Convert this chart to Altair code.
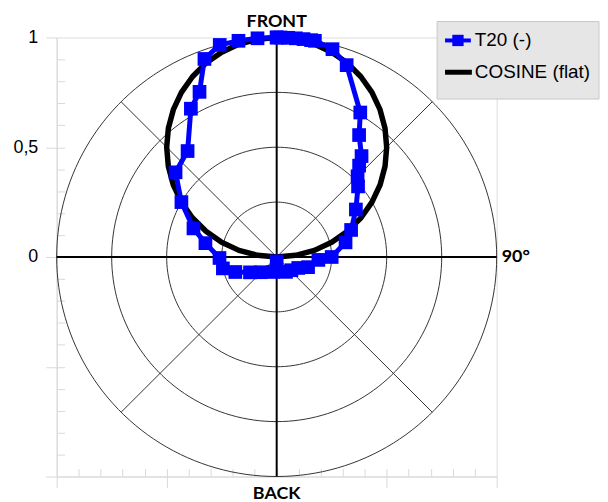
import altair as alt
import numpy as np
import pandas as pd

# ---- data -------------------------------------------------------------------
T20_ANGLE = [0, 1, 3, 5, 7, 9, 10, 15, 20, 30, 34, 40, 42, 45, 49, 59, 70, 78, 90,
             94, 108, 117, 132, 148, 180, -167, -134, -120, -110, -102, -91, -79,
             -71, -60, -50, -40, -30, -25, -20, -15, -10, -5, 0]
T20_R = [1.0, 1.0, 1.0, 1.0, 1.0, 1.0, 1.0, 0.98, 0.93, 0.76, 0.67, 0.60, 0.56, 0.52,
         0.49, 0.42, 0.36, 0.32, 0.25, 0.19, 0.15, 0.11, 0.09, 0.08, 0.02, 0.07, 0.10,
         0.14, 0.20, 0.25, 0.26, 0.33, 0.40, 0.50, 0.60, 0.63, 0.78, 0.83, 0.96, 1.0,
         1.0, 1.0, 1.0]

COS_ANGLE = [-90, -85, -80, -75, -70, -65, -60, -55, -50, -45, -40, -35, -30, -25, -20,
             -15, -10, -5, 0, 5, 10, 15, 20, 25, 30, 35, 40, 45, 50, 55, 60, 65, 70, 75,
             80, 85, 90]
COS_R = [0.0, 0.087, 0.174, 0.259, 0.342, 0.423, 0.5, 0.574, 0.643, 0.707, 0.766, 0.819,
         0.866, 0.906, 0.94, 0.966, 0.985, 0.996, 1.0, 0.996, 0.985, 0.966, 0.94, 0.906,
         0.866, 0.819, 0.766, 0.707, 0.643, 0.574, 0.5, 0.423, 0.342, 0.259, 0.174,
         0.087, 0.0]

SERIES = ["T20 (-)", "COSINE (flat)"]
COLORS = ["#0000ff", "#000000"]

GRID_R = [0.25, 0.5, 0.75, 1.0]
SPOKE_ANGLES = [45, 135, 225, 315]
Y_TICKS = [-1, -0.5, 0, 0.5, 1]
X_TICKS = [-1, -0.5, 0.5, 1]
MINOR_TICKS = [-0.9, -0.8, -0.7, -0.6, -0.5, -0.4, -0.3, -0.2, -0.1, 0.0,
               0.1, 0.2, 0.3, 0.4, 0.5, 0.6, 0.7, 0.8, 0.9]


def polar(angles, radii):
    a = np.radians(np.asarray(angles, dtype=float))
    r = np.asarray(radii, dtype=float)
    return r * np.sin(a), r * np.cos(a)


tx, ty = polar(T20_ANGLE, T20_R)
t20_df = pd.DataFrame({"x": tx, "y": ty, "series": SERIES[0], "i": range(len(tx))})
cx, cy = polar(COS_ANGLE, COS_R)
cos_df = pd.DataFrame({"x": cx, "y": cy, "series": SERIES[1], "i": range(len(cx))})

phi = np.arange(0, 361, 2)
grid_rows = []
for r in GRID_R:
    gx, gy = polar(phi, [r] * len(phi))
    for k in range(len(phi)):
        grid_rows.append({"x": gx[k], "y": gy[k], "ring": r, "i": k})
grid_df = pd.DataFrame(grid_rows)

sx, sy = polar(SPOKE_ANGLES, [1.0] * len(SPOKE_ANGLES))
spoke_df = pd.DataFrame({"x": 0.0, "y": 0.0, "x2": sx, "y2": sy})
axes_df = pd.DataFrame({"x": [0.0, -1.0], "y": [-1.0, 0.0], "x2": [0.0, 1.0], "y2": [1.0, 0.0]})

W, H = 443, 442
GRAY = "#d9d9d9"
xs = alt.Scale(domain=[-1, 1], nice=False, zero=False)
ys = alt.Scale(domain=[-1, 1], nice=False, zero=False)

major_x = alt.Axis(orient="bottom", values=X_TICKS, labels=False, tickSize=11,
                   tickColor=GRAY, domainColor=GRAY, grid=False, title=None)
major_y = alt.Axis(orient="left", values=Y_TICKS, format=".1~f",
                   labelExpr="datum.value < 0 ? '' : replace(datum.label, '.', ',')",
                   labelFont="Liberation Sans", labelFontSize=18, labelColor="black",
                   labelPadding=8, labelFlush=False, labelOverlap=False, tickSize=11,
                   tickColor=GRAY, domainColor=GRAY, grid=False, title=None)
minor_x = alt.Axis(orient="top", offset=-H, values=MINOR_TICKS, labels=False,
                   domain=False, tickSize=8, tickColor=GRAY, grid=False, title=None)
minor_y = alt.Axis(orient="right", offset=-W, values=MINOR_TICKS, labels=False,
                   domain=False, tickSize=8, tickColor=GRAY, grid=False, title=None)

color_scale = alt.Scale(domain=SERIES, range=COLORS)


def X(axis=None):
    return alt.X("x:Q", scale=xs, axis=axis)


def Y(axis=None):
    return alt.Y("y:Q", scale=ys, axis=axis)


grid_layer = alt.Chart(grid_df).mark_line(color="#333333", strokeWidth=1).encode(
    x=X(major_x), y=Y(major_y), detail="ring:N", order="i:Q")

spoke_layer = alt.Chart(spoke_df).mark_rule(color="#333333", strokeWidth=1).encode(
    x=X(minor_x), y=Y(minor_y), x2="x2:Q", y2="y2:Q")

axes_layer = alt.Chart(axes_df).mark_rule(color="black", strokeWidth=2).encode(
    x=X(), y=Y(), x2="x2:Q", y2="y2:Q")

cos_layer = alt.Chart(cos_df).mark_line(strokeWidth=5.5, strokeJoin="round").encode(
    x=X(), y=Y(), color=alt.Color("series:N", scale=color_scale, legend=None),
    order="i:Q")

t20_line = alt.Chart(t20_df).mark_line(strokeWidth=5, strokeJoin="round").encode(
    x=X(), y=Y(), color=alt.Color("series:N", scale=color_scale, legend=None),
    order="i:Q")

t20_pts = alt.Chart(t20_df).mark_point(shape="square", filled=True, size=190,
                                       opacity=1, strokeWidth=0).encode(
    x=X(), y=Y(), color=alt.Color("series:N", scale=color_scale, legend=None))

LABELS = ["FRONT", "BACK", "90°"]
LABEL_X = [0, 0, 1]
LABEL_Y = [1, -1, 0]
txt = dict(font="Lato", fontWeight="bold", fontSize=18, color="black")


def label_layer(k, **kw):
    df = pd.DataFrame({"x": [LABEL_X[k]], "y": [LABEL_Y[k]], "t": [LABELS[k]]})
    return alt.Chart(df).mark_text(**txt, **kw).encode(x=X(), y=Y(), text="t:N")


front = label_layer(0, dy=-11, baseline="alphabetic", align="center")
back = label_layer(1, dy=23, baseline="alphabetic", align="center")
ninety = label_layer(2, dx=5, baseline="middle", align="left")

# ---- legend (drawn by hand, positions in pixels relative to the plot area) ----
one = pd.DataFrame({"k": [0]})
leg_box = alt.Chart(one).mark_rect(fill="#e6e6e6", stroke="#c8c8c8", strokeWidth=1).encode(
    x=alt.value(383), x2=alt.value(546), y=alt.value(-16), y2=alt.value(62))
ROW_Y = [3, 35]
leg_t20_line = alt.Chart(one).mark_rule(color=COLORS[0], strokeWidth=4).encode(
    x=alt.value(391), x2=alt.value(417), y=alt.value(ROW_Y[0]))
leg_t20_sq = alt.Chart(one).mark_point(shape="square", filled=True, size=130, opacity=1,
                                       color=COLORS[0], strokeWidth=0).encode(
    x=alt.value(404), y=alt.value(ROW_Y[0]))
leg_cos_line = alt.Chart(one).mark_rule(color=COLORS[1], strokeWidth=5).encode(
    x=alt.value(391), x2=alt.value(418), y=alt.value(ROW_Y[1]))
leg_txt = dict(font="Liberation Sans", fontSize=19, color="black", align="left",
               baseline="middle")
leg_t20_txt = alt.Chart(one).mark_text(**leg_txt).encode(
    x=alt.value(421), y=alt.value(ROW_Y[0]), text=alt.value(SERIES[0]))
leg_cos_txt = alt.Chart(one).mark_text(**leg_txt).encode(
    x=alt.value(421), y=alt.value(ROW_Y[1]), text=alt.value(SERIES[1]))

chart = alt.layer(
    grid_layer, spoke_layer, axes_layer, cos_layer, t20_line, t20_pts,
    front, back, ninety,
    leg_box, leg_t20_line, leg_t20_sq, leg_cos_line, leg_t20_txt, leg_cos_txt,
).resolve_axis(x="independent", y="independent").properties(
    width=W, height=H,
    padding={"left": 49, "top": 28, "right": 104, "bottom": 24},
    autosize=alt.AutoSizeParams(type="none"),
).configure_view(stroke=GRAY, strokeWidth=1).configure(background="white")

chart.save("out.html", embed_options={"renderer": "svg", "actions": False})
